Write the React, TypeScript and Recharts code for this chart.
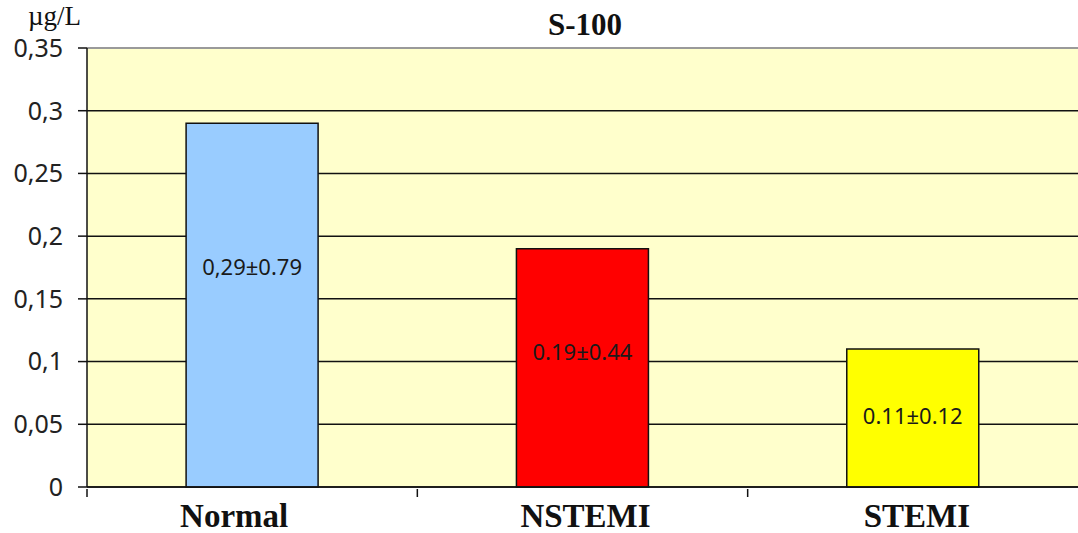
import { BarChart, Bar, XAxis, YAxis, CartesianGrid, ReferenceLine, LabelList, Cell } from 'recharts';

// S-100 levels by group (µg/L)
const groups = ['Normal', 'NSTEMI', 'STEMI'];
const means = [0.29, 0.19, 0.11];
const barLabels = ['0,29±0.79', '0.19±0.44', '0.11±0.12'];
const barColors = ['#99CCFF', '#FF0000', '#FFFF00'];
const yTicks = [0, 0.05, 0.1, 0.15, 0.2, 0.25, 0.3, 0.35];

const W = 1078;
const H = 533;
const AXIS_W = 87;
const BAND = (W - AXIS_W) / groups.length;
// how far down each bar its value text sits (fraction of bar height)
const labelDepth = [0.395, 0.435, 0.486];
// small horizontal nudges for the category names
const catShift = [-18, 3, 4];

const data = groups.map((g, i) => ({ group: g, mean: means[i], label: barLabels[i] }));

function CategoryTick(props: any) {
    const { x, y, payload, index } = props;
    const edge = x - BAND / 2;
    return (
        <g>
            <line x1={edge} y1={y} x2={edge} y2={y + 8} stroke="#111" strokeWidth={1.5} />
            <text
                x={x + (catShift[index] ?? 0)}
                y={y + 38}
                textAnchor="middle"
                fontFamily="'Liberation Serif', 'Times New Roman', serif"
                fontWeight="bold"
                fontSize={33}
                fill="#111"
            >
                {payload.value}
            </text>
        </g>
    );
}

function BarText(props: any) {
    const { x, y, width, height, index } = props;
    const cy = y + height * labelDepth[index];
    return (
        <text
            x={x + width / 2}
            y={cy}
            dy="0.36em"
            textAnchor="middle"
            fontFamily="'Noto Sans', sans-serif"
            fontSize={22}
            fill="#1a1a1a"
        >
            {barLabels[index]}
        </text>
    );
}

export default function App() {
    return (
        <div style={{ position: 'absolute', left: 0, top: 0, width: W, height: H, background: '#fff' }}>
            <div
                style={{
                    position: 'absolute',
                    left: 28,
                    top: 3,
                    fontFamily: "'Liberation Serif', serif",
                    fontSize: 27,
                    color: '#111',
                    lineHeight: 1,
                }}
            >
                µg/L
            </div>
            <div
                style={{
                    position: 'absolute',
                    left: 485,
                    width: 200,
                    top: 9,
                    textAlign: 'center',
                    fontFamily: "'Liberation Serif', serif",
                    fontWeight: 'bold',
                    fontSize: 31,
                    color: '#111',
                    lineHeight: 1,
                }}
            >
                S-100
            </div>
            <BarChart
                width={W}
                height={H}
                data={data}
                margin={{ top: 48, right: 0, bottom: 0, left: 0 }}
                barCategoryGap="30%"
            >
                <CartesianGrid vertical={false} stroke="#111" strokeWidth={1.5} fill="#FFFFCC" fillOpacity={1} />
                <XAxis
                    dataKey="group"
                    height={46}
                    axisLine={{ stroke: '#111', strokeWidth: 1.5 }}
                    tickLine={false}
                    tickSize={0}
                    tick={<CategoryTick />}
                    interval={0}
                />
                <YAxis
                    width={AXIS_W}
                    domain={[0, 0.35]}
                    ticks={yTicks}
                    interval={0}
                    axisLine={{ stroke: '#111', strokeWidth: 1.5 }}
                    tickLine={{ stroke: '#111', strokeWidth: 1.5 }}
                    tickSize={9}
                    tickMargin={15}
                    tickFormatter={(v: number) => String(v).replace('.', ',')}
                    tick={{ fontFamily: "'Noto Sans', sans-serif", fontSize: 25, fill: '#222' }}
                />
                <ReferenceLine y={0.35} stroke="#9a9a9a" strokeWidth={2} />
                <Bar dataKey="mean" stroke="#111" strokeWidth={1.5} isAnimationActive={false}>
                    {data.map((d, i) => (
                        <Cell key={d.group} fill={barColors[i]} />
                    ))}
                    <LabelList dataKey="label" content={<BarText />} />
                </Bar>
            </BarChart>
        </div>
    );
}
